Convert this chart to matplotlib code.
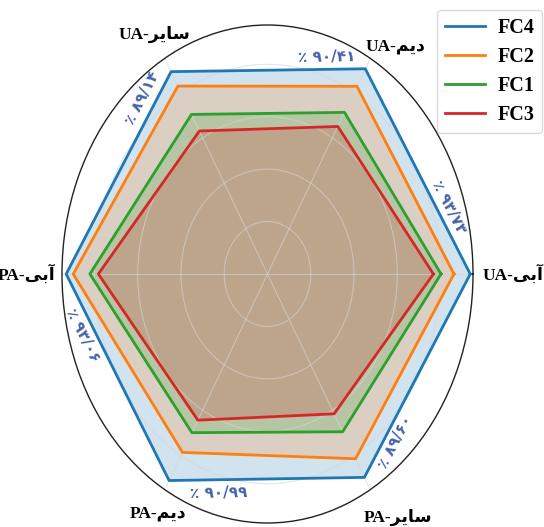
import numpy as np
import matplotlib
matplotlib.use("Agg")
import matplotlib.pyplot as plt

# ── data ──────────────────────────────────────────────────────────────────────
# Arabic words are written as presentation forms in visual (left-to-right) order
ABI   = "\uFEF0\uFE91\uFE81"          # آبی
DEYM  = "\uFEE2\uFEF3\uFEA9"          # دیم
SAYER = "\uFEAE\uFEF3\uFE8E\uFEB3"    # سایر

categories = ["UA-" + ABI, "UA-" + DEYM, "UA-" + SAYER,
              "PA-" + ABI, "PA-" + DEYM, "PA-" + SAYER]
series = ["FC4", "FC2", "FC1", "FC3"]

fc4 = [93.73, 90.41, 89.14, 93.06, 90.99, 89.60]
fc2 = [86.2, 82.7, 82.8, 89.8, 78.6, 81.4]
fc1 = [80.2, 71.2, 70.3, 82.1, 69.9, 69.5]
fc3 = [76.7, 65.0, 63.0, 78.2, 64.4, 61.6]
values = [fc4, fc2, fc1, fc3]

r_max = 95
grid_r = [20, 40, 60, 80]

# ── style ─────────────────────────────────────────────────────────────────────
COLORS = ["#1f77b4", "#ff7f0e", "#2ca02c", "#d62728"]
PCT_COLOR = "#4763a8"
SERIF = ["Liberation Serif", "DejaVu Sans"]

# label placement (theta deg, r, ha) for the category names
CAT_POS = [(0, 99.5, "left"), (55.6, 105, "center"), (119.7, 105.2, "center"),
           (180, 98.2, "right"), (241, 104.6, "center"), (303, 110.6, "center")]
# where along each outer edge the percentage label sits, and its offset (px)
PCT_T = [0.30, 0.20, 0.16, 0.27, 0.25, 0.20]
PCT_OFF = [12, 12, 14, 12, 13, 11]

FA_DIGITS = str.maketrans("0123456789.", "۰۱۲۳۴۵۶۷۸۹/")


def to_fa(v: float) -> str:
    return "\u066A " + f"{v:.2f}".translate(FA_DIGITS)


fig = plt.figure(figsize=(5.44, 5.27), dpi=100)
ax = fig.add_axes([62 / 544, 4 / 527, 411 / 544, 498 / 527], projection="polar")
ax.set_aspect("auto")

theta = np.deg2rad(np.arange(len(categories)) * 60.0)
theta_c = np.append(theta, theta[0])

for name, vals, col in zip(series, values, COLORS):
    v = np.append(vals, vals[0])
    ax.fill(theta_c, v, color=col, alpha=0.2, lw=0, zorder=1)
for name, vals, col in zip(series, values, COLORS):
    v = np.append(vals, vals[0])
    ax.plot(theta_c, v, color=col, lw=2.0, label=name, zorder=3)

ax.set_ylim(0, r_max)
ax.set_yticks(grid_r)
ax.set_yticklabels([])
ax.set_xticks(theta)
ax.set_xticklabels([])
# faint grid drawn over the fills, as in the reference
ax.grid(True, color="#d4d4d4", lw=0.8, alpha=0.6, zorder=2)
ax.spines["polar"].set_color("#222222")
ax.spines["polar"].set_linewidth(1.0)

# category labels
for lab, (tdeg, r, ha) in zip(categories, CAT_POS):
    ax.text(np.deg2rad(tdeg), r, lab, ha=ha, va="center", fontsize=12.5,
            fontweight="bold", family=SERIF, clip_on=False)

# percentage labels along the outer (FC4) edges
center = ax.transData.transform((0, 0))
n = len(fc4)
for i in range(n):
    j = (i + 1) % n
    p0 = ax.transData.transform((theta[i], fc4[i]))
    p1 = ax.transData.transform((theta[j], fc4[j]))
    d = p1 - p0
    ang = np.degrees(np.arctan2(d[1], d[0]))
    if ang > 90:
        ang -= 180
    elif ang <= -90:
        ang += 180
    p = p0 + PCT_T[i] * d
    nrm = np.array([d[1], -d[0]]) / np.hypot(*d)
    if np.dot(nrm, p - center) < 0:
        nrm = -nrm
    p = p + PCT_OFF[i] * nrm
    tx, ty = ax.transData.inverted().transform(p)
    ax.text(tx, ty, to_fa(fc4[i]), rotation=ang, rotation_mode="anchor",
            ha="center", va="center", fontsize=11, fontweight="bold",
            color=PCT_COLOR, family="DejaVu Sans", clip_on=False)

leg = ax.legend(loc="upper left", bbox_to_anchor=(437 / 544, 1 - 10 / 527),
                bbox_transform=fig.transFigure, borderaxespad=0,
                prop={"family": SERIF, "weight": "bold", "size": 14.5},
                handlelength=2.0, handletextpad=0.6, labelspacing=0.45,
                frameon=True)
leg.get_frame().set_edgecolor("#d0d0d0")

fig.savefig("out.png", dpi=100)
